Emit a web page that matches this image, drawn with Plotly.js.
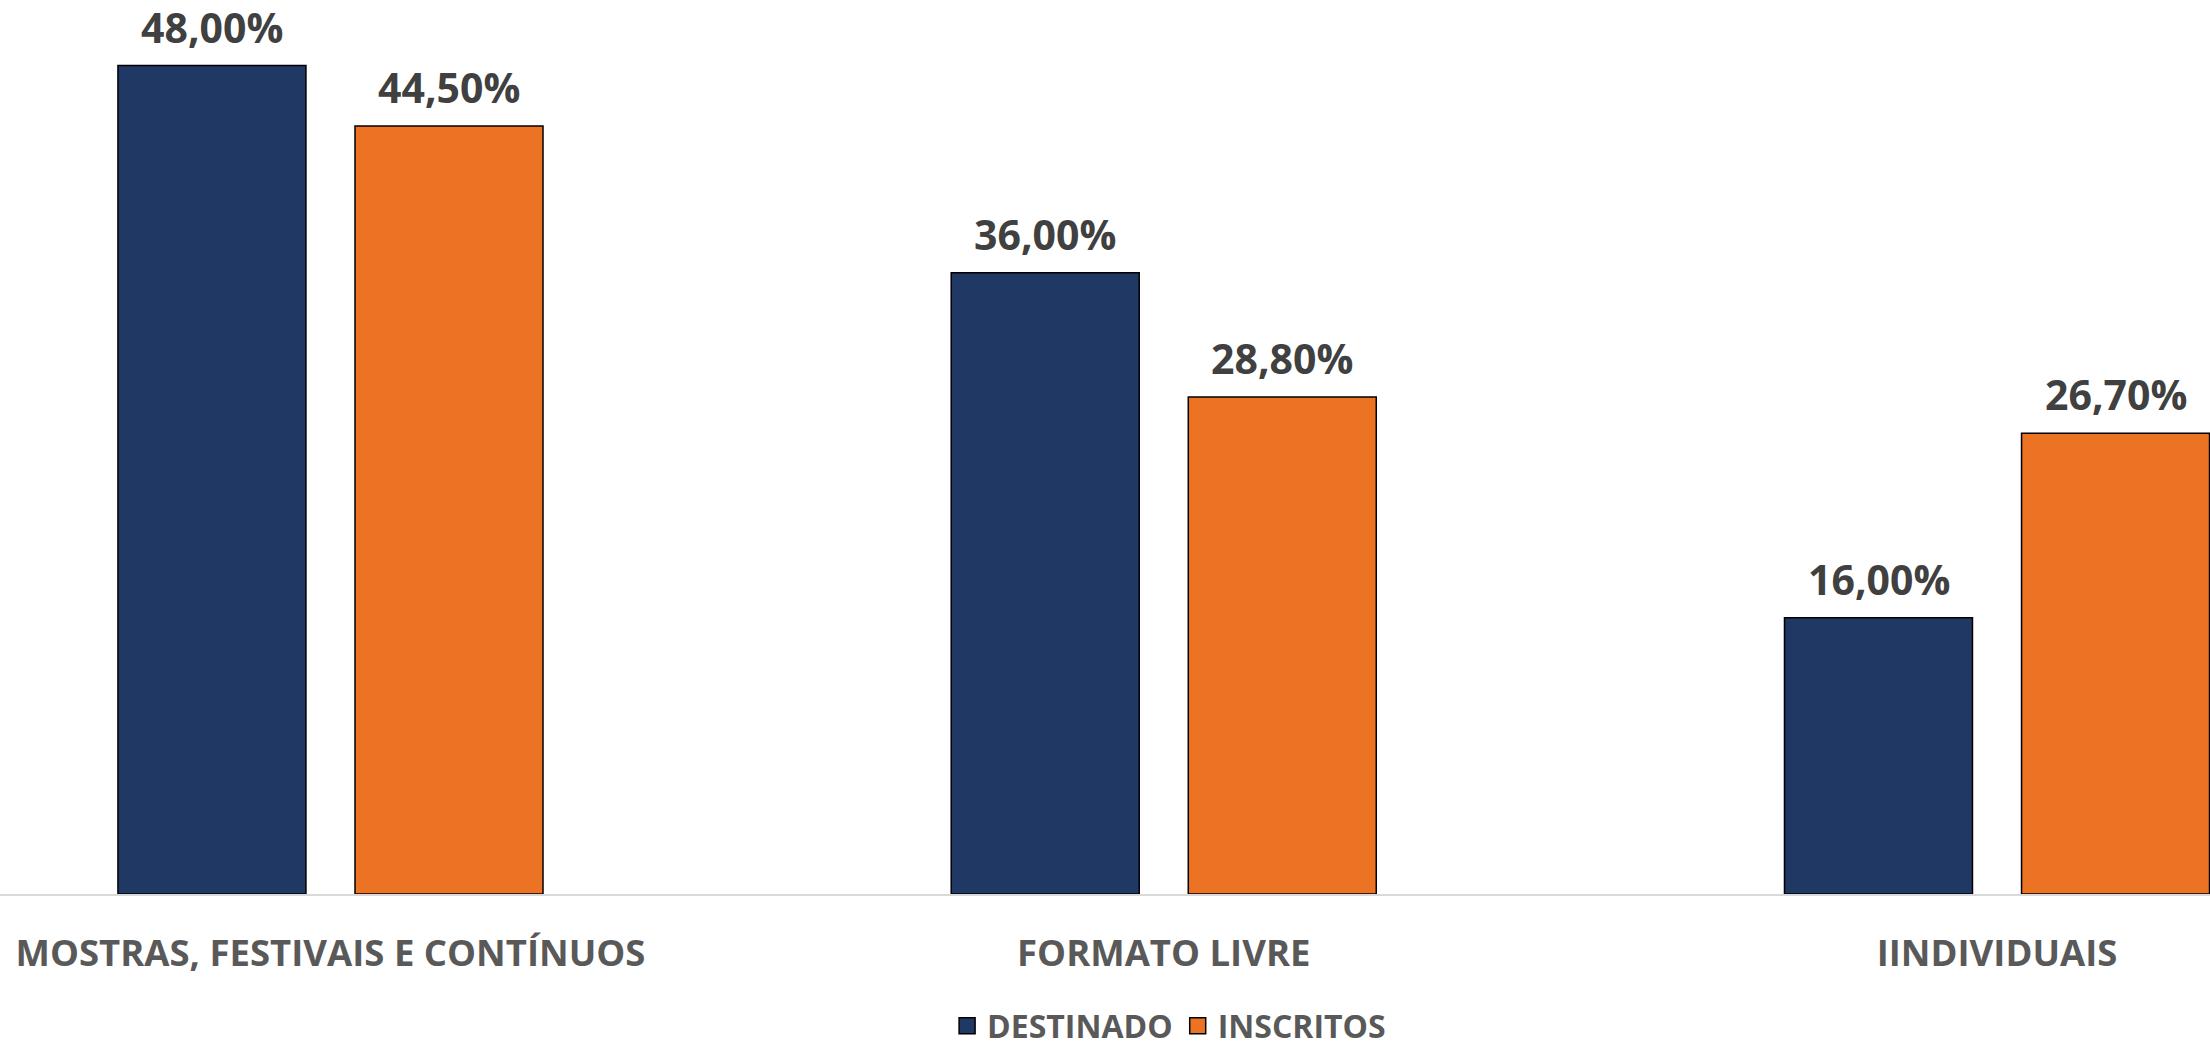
<!DOCTYPE html>
<html>
<head>
<meta charset="utf-8">
<script src="https://cdn.plot.ly/plotly-3.0.1.min.js"></script>
<style>html,body{margin:0;padding:0;background:#fff;}#chart{width:2210px;height:1061px;}</style>
</head>
<body>
<div id="chart"></div>
<script>
const categories = ["MOSTRAS, FESTIVAIS E CONTÍNUOS", "FORMATO LIVRE", "IINDIVIDUAIS"];
const destinado = [48.0, 36.0, 16.0];
const inscritos = [44.5, 28.8, 26.7];
const seriesNames = ["DESTINADO", "INSCRITOS"];

const colors = ["#203864", "#EC7323"];
const series = [destinado, inscritos];

const traces = series.map((vals, i) => ({
  type: "bar",
  name: seriesNames[i],
  x: categories,
  y: vals,
  showlegend: false,
  marker: {color: colors[i], line: {color: "#000000", width: 1.5}},
  hoverinfo: "none"
}));

// legend-only entries (larger square swatches)
seriesNames.forEach((n, i) => {
  traces.push({
    type: "scatter", mode: "markers", name: n,
    x: [null], y: [null], showlegend: true,
    marker: {symbol: "square", size: 16, color: colors[i], line: {color: "#000000", width: 1.5}},
    hoverinfo: "none"
  });
});

const fmt = v => v.toFixed(2).replace(".", ",") + "%";
const slotOffset = 0.1422;
const annotations = [];
series.forEach((vals, i) => {
  vals.forEach((v, j) => {
    annotations.push({
      xref: "x", yref: "y",
      x: j + (i === 0 ? -slotOffset : slotOffset),
      y: v,
      text: "<b>" + fmt(v) + "</b>",
      showarrow: false,
      yanchor: "bottom",
      xanchor: "center",
      yshift: 9,
      font: {family: "Open Sans, sans-serif", size: 41, color: "#404040"}
    });
  });
});

const layout = {
  width: 2210, height: 1061,
  margin: {l: 0, r: 0, t: 0, b: 167, pad: 0},
  paper_bgcolor: "#ffffff", plot_bgcolor: "#ffffff",
  barmode: "group",
  bargap: 0.431,
  bargroupgap: 0.207,
  showlegend: true,
  legend: {
    orientation: "h", xref: "container", yref: "container",
    x: 0.529, xanchor: "center", y: 0.033, yanchor: "middle",
    font: {family: "Open Sans, sans-serif", size: 32, color: "#595959", weight: "bold"},
    itemclick: false, itemdoubleclick: false, tracegroupgap: 0, itemsizing: "trace"
  },
  xaxis: {
    type: "category",
    range: [-0.3966, 2.2556],
    showline: true, linecolor: "#D9D9D9", linewidth: 2,
    ticks: "", showgrid: false, zeroline: false,
    ticklabelstandoff: 26,
    tickfont: {family: "Open Sans, sans-serif", size: 36.5, color: "#595959", weight: "bold"},
    fixedrange: true
  },
  yaxis: {
    range: [0, 51.8],
    visible: false, showgrid: false, zeroline: false, fixedrange: true
  },
  annotations: annotations
};

Plotly.newPlot("chart", traces, layout, {displayModeBar: false, staticPlot: true});
</script>
</body>
</html>
